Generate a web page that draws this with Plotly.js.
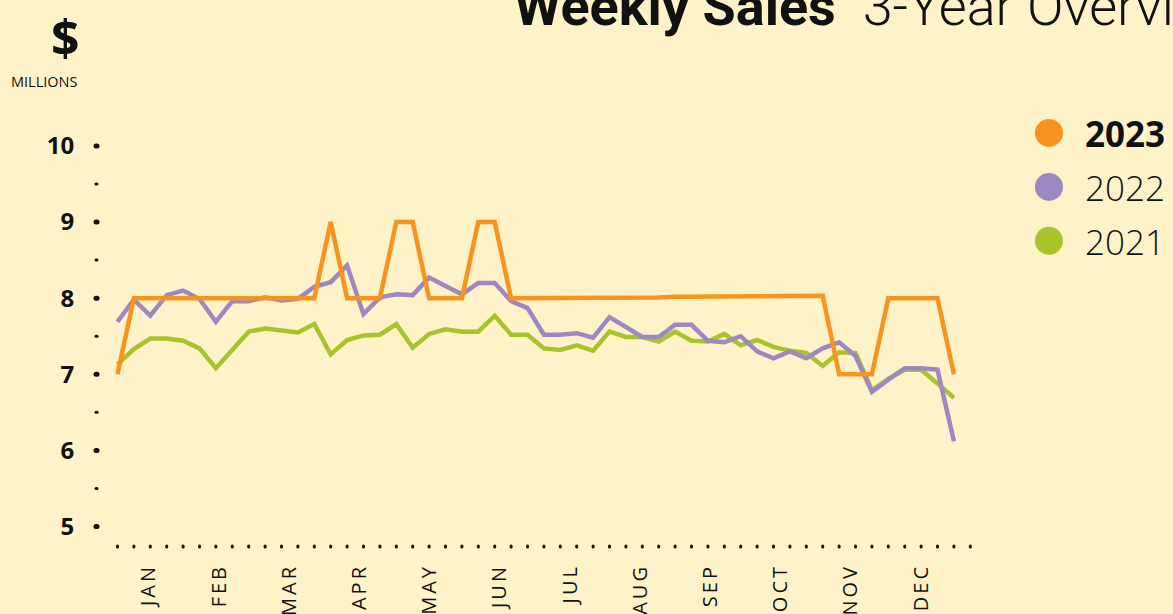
<!DOCTYPE html>
<html>
<head>
<meta charset="utf-8">
<script src="https://cdn.plot.ly/plotly-3.0.1.min.js"></script>
<style>
html,body{margin:0;padding:0;background:#FEF3C8;}
#chart{width:1173px;height:614px;}
.js-plotly-plot .plotly path.ticks{stroke-linecap:round;shape-rendering:geometricPrecision;}
.js-plotly-plot .plotly .xtick text{letter-spacing:3px;}
</style>
</head>
<body>
<div id="chart"></div>
<script>
// ---- data ----
const weeks = [1,2,3,4,5,6,7,8,9,10,11,12,13,14,15,16,17,18,19,20,21,22,23,24,25,26,
               27,28,29,30,31,32,33,34,35,36,37,38,39,40,41,42,43,44,45,46,47,48,49,50,51,52];
const months = ["JAN","FEB","MAR","APR","MAY","JUN","JUL","AUG","SEP","OCT","NOV","DEC"];
const years = ["2023","2022","2021"];
const sales2023 = [7.0,8.0,8.0,8.0,8.0,8.0,8.0,8.0,8.0,8.0,8.0,8.0,8.0,9.0,8.0,8.0,8.0,9.0,9.0,8.0,
                   8.0,8.0,9.0,9.0,8.0,8.0,8.0,8.0,8.0,8.01,8.01,8.01,8.01,8.01,8.02,8.02,8.02,8.02,8.02,8.03,
                   8.03,8.03,8.03,8.03,7.0,7.0,7.0,8.0,8.0,8.0,8.0,7.0];
const sales2022 = [7.69,7.98,7.77,8.04,8.10,7.99,7.69,7.96,7.96,8.01,7.97,7.99,8.15,8.21,8.43,7.79,8.01,8.05,8.04,8.27,
                   8.16,8.05,8.20,8.20,7.96,7.87,7.52,7.52,7.54,7.48,7.75,7.62,7.49,7.49,7.65,7.65,7.44,7.42,7.50,7.30,
                   7.21,7.30,7.21,7.34,7.42,7.24,6.77,6.93,7.08,7.08,7.06,6.12];
const sales2021 = [7.13,7.33,7.47,7.47,7.44,7.34,7.08,7.33,7.56,7.60,7.58,7.55,7.66,7.26,7.45,7.51,7.52,7.66,7.35,7.53,
                   7.59,7.56,7.56,7.77,7.52,7.52,7.34,7.32,7.38,7.31,7.56,7.49,7.49,7.43,7.56,7.44,7.43,7.53,7.38,7.45,
                   7.36,7.31,7.28,7.11,7.29,7.28,6.79,6.94,7.06,7.06,6.88,6.69];

const seriesValues = [sales2023, sales2022, sales2021];
const colors = ["#F7941D", "#9E88C4", "#A8C42A"];
const BG = "#FEF3C8";
const INK = "#111111";

// ---- geometry (pixels) ----
const W = 1173, H = 614;
const mL = 97.5, mR = 198, mT = 110, mB = 68.5;
const plotW = W - mL - mR, plotH = H - mT - mB;
const px2x = px => (px - mL) / plotW;
const py2y = py => (H - mB - py) / plotH;

// traces: oldest drawn first so 2023 sits on top
const traces = [];
for (let k = years.length - 1; k >= 0; k--) {
  traces.push({
    type: "scatter", mode: "lines", name: years[k],
    x: weeks, y: seriesValues[k],
    line: {color: colors[k], width: 4.5},
    showlegend: false, hoverinfo: "x+y"
  });
}

const monthTicks = months.map((m, i) => 2.92 + 4.28 * i);
const weekDots = weeks.concat([weeks[weeks.length - 1] + 1]);

// custom legend (large round swatches)
const shapes = [], annotations = [];
years.forEach((yr, k) => {
  const cy = 133 + 54 * k;
  shapes.push({
    type: "circle", xref: "paper", yref: "paper",
    xsizemode: "pixel", ysizemode: "pixel",
    xanchor: px2x(1049), yanchor: py2y(cy),
    x0: -14, x1: 14, y0: -14, y1: 14,
    fillcolor: colors[k], line: {width: 0}
  });
  annotations.push({
    xref: "paper", yref: "paper", x: px2x(1083), y: py2y(cy + 1),
    xanchor: "left", yanchor: "middle", showarrow: false,
    text: k === 0 ? "<b>" + yr + "</b>" : yr,
    font: {family: "Open Sans", size: 35, color: INK, weight: k === 0 ? 700 : 300}
  });
});

annotations.push({
  xref: "paper", yref: "paper", x: px2x(64.5), y: py2y(37),
  xanchor: "center", yanchor: "middle", showarrow: false,
  text: "<b>$</b>", font: {family: "Open Sans", size: 50, color: INK}
});
annotations.push({
  xref: "paper", yref: "paper", x: px2x(43.5), y: py2y(81),
  xanchor: "center", yanchor: "middle", showarrow: false,
  text: "MILLIONS", font: {family: "Open Sans", size: 14.5, color: INK}
});

const layout = {
  width: W, height: H,
  margin: {l: mL, r: mR, t: mT, b: mB, pad: 0},
  paper_bgcolor: BG, plot_bgcolor: BG,
  showlegend: false,
  title: {
    text: "<b>Weekly Sales</b>  <span style='font-weight:300'>3-Year Overview</span>",
    font: {family: "Roboto", size: 54, color: INK},
    xref: "container", yref: "container",
    x: 514 / W, xanchor: "left", y: 1 - 6 / H, yanchor: "middle"
  },
  xaxis: {
    range: [1 - 19.5 / 16.41, 1 + 858 / 16.41],
    tickmode: "array", tickvals: monthTicks, ticktext: months,
    tickangle: -90, ticks: "", ticklabelstandoff: 14,
    tickfont: {family: "Open Sans", size: 20, color: INK, weight: 400},
    showgrid: false, zeroline: false, showline: false,
    minor: {tickmode: "array", tickvals: weekDots, ticks: "outside",
            ticklen: 1, tickwidth: 3, tickcolor: INK, showgrid: false},
    fixedrange: true
  },
  yaxis: {
    range: [4.757, 10.472],
    tickmode: "linear", tick0: 5, dtick: 1,
    ticks: "outside", ticklen: 1, tickwidth: 5, tickcolor: INK,
    ticklabelstandoff: 17,
    tickfont: {family: "Open Sans", size: 24, color: INK, weight: 700},
    showgrid: false, zeroline: false, showline: false,
    minor: {tickmode: "linear", tick0: 5.5, dtick: 1, ticks: "outside",
            ticklen: 1, tickwidth: 3, tickcolor: INK, showgrid: false},
    fixedrange: true
  },
  shapes: shapes,
  annotations: annotations
};

Plotly.newPlot("chart", traces, layout, {displayModeBar: false, staticPlot: true});
</script>
</body>
</html>
